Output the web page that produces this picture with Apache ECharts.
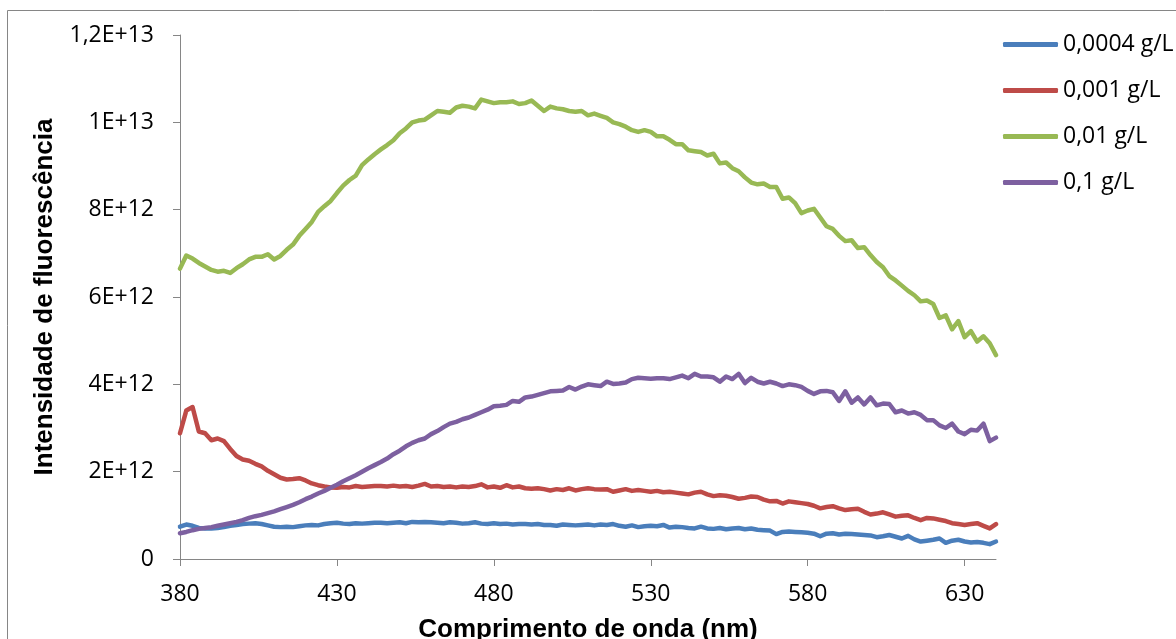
<!DOCTYPE html>
<html>
<head>
<meta charset="utf-8">
<script src="https://cdn.jsdelivr.net/npm/echarts@6/dist/echarts.min.js"></script>
<style>
html,body{margin:0;padding:0;background:#fff;}
#chart{width:1176px;height:639px;}
</style>
</head>
<body>
<div id="chart"></div>
<script>
// Wavelengths (nm), 2 nm step
const wavelengths = [];
for (let w = 380; w <= 640; w += 2) wavelengths.push(w);

const SCALE = 1e12; // values below are in units of 1E+12

const seriesNames = ['0,0004 g/L', '0,001 g/L', '0,01 g/L', '0,1 g/L'];

const s00004 = [
0.74,0.79,0.76,0.71,0.70,0.70,0.71,0.73,0.76,0.78,
0.80,0.81,0.82,0.80,0.77,0.74,0.73,0.74,0.73,0.75,
0.77,0.78,0.77,0.80,0.82,0.83,0.81,0.80,0.82,0.81,
0.82,0.83,0.83,0.82,0.83,0.84,0.82,0.85,0.84,0.85,
0.84,0.83,0.82,0.84,0.83,0.81,0.82,0.84,0.81,0.80,
0.82,0.80,0.81,0.79,0.80,0.80,0.79,0.80,0.78,0.78,
0.76,0.79,0.78,0.77,0.78,0.79,0.77,0.79,0.78,0.80,
0.76,0.74,0.77,0.73,0.75,0.76,0.75,0.78,0.72,0.74,
0.73,0.71,0.70,0.74,0.70,0.69,0.71,0.68,0.70,0.71,
0.68,0.70,0.67,0.66,0.65,0.57,0.62,0.63,0.62,0.61,
0.60,0.58,0.52,0.58,0.59,0.56,0.58,0.57,0.56,0.55,
0.54,0.50,0.52,0.55,0.51,0.47,0.53,0.45,0.40,0.42,
0.44,0.47,0.37,0.42,0.44,0.40,0.38,0.39,0.37,0.34,
0.40];

const s0001 = [
2.88,3.40,3.48,2.92,2.88,2.72,2.76,2.70,2.52,2.36,
2.28,2.25,2.18,2.12,2.02,1.94,1.86,1.82,1.83,1.85,
1.80,1.73,1.69,1.66,1.64,1.63,1.65,1.64,1.67,1.65,
1.66,1.67,1.67,1.66,1.68,1.66,1.67,1.65,1.68,1.72,
1.66,1.67,1.65,1.66,1.64,1.66,1.65,1.67,1.71,1.64,
1.66,1.63,1.69,1.64,1.66,1.62,1.61,1.62,1.60,1.57,
1.60,1.58,1.62,1.57,1.60,1.62,1.60,1.59,1.60,1.54,
1.57,1.60,1.56,1.58,1.56,1.54,1.56,1.53,1.54,1.52,
1.50,1.48,1.52,1.54,1.48,1.44,1.46,1.45,1.42,1.38,
1.40,1.43,1.42,1.36,1.32,1.33,1.27,1.32,1.30,1.28,
1.26,1.22,1.16,1.19,1.21,1.16,1.12,1.14,1.15,1.08,
1.02,1.04,1.07,1.02,0.97,0.99,1.00,0.94,0.89,0.94,
0.93,0.90,0.87,0.82,0.80,0.78,0.80,0.82,0.76,0.70,
0.80];

const s001 = [
6.65,6.95,6.88,6.78,6.70,6.62,6.58,6.60,6.55,6.66,
6.75,6.86,6.92,6.92,6.98,6.86,6.94,7.08,7.20,7.40,
7.56,7.72,7.95,8.08,8.20,8.38,8.55,8.68,8.78,9.02,
9.15,9.27,9.38,9.48,9.59,9.75,9.86,10.00,10.04,10.06,
10.16,10.26,10.24,10.22,10.34,10.38,10.36,10.32,10.52,10.48,
10.44,10.46,10.46,10.48,10.42,10.44,10.50,10.38,10.26,10.36,
10.32,10.30,10.26,10.24,10.26,10.16,10.20,10.15,10.10,10.00,
9.96,9.90,9.82,9.78,9.82,9.78,9.68,9.68,9.60,9.50,
9.50,9.36,9.34,9.32,9.24,9.28,9.06,9.08,8.95,8.88,
8.74,8.62,8.58,8.60,8.52,8.52,8.25,8.28,8.15,7.92,
7.98,8.02,7.82,7.62,7.56,7.40,7.28,7.30,7.12,7.14,
6.96,6.80,6.68,6.48,6.38,6.26,6.14,6.04,5.90,5.92,
5.84,5.52,5.58,5.26,5.45,5.08,5.22,4.98,5.10,4.94,
4.67];

const s01 = [
0.59,0.62,0.66,0.69,0.71,0.73,0.76,0.79,0.82,0.85,
0.89,0.94,0.98,1.01,1.05,1.09,1.14,1.19,1.24,1.30,
1.37,1.43,1.50,1.56,1.63,1.70,1.78,1.85,1.92,2.00,
2.08,2.15,2.22,2.30,2.40,2.48,2.58,2.66,2.72,2.76,
2.86,2.93,3.02,3.10,3.14,3.20,3.24,3.30,3.36,3.42,
3.50,3.51,3.53,3.62,3.60,3.70,3.72,3.76,3.80,3.84,
3.85,3.86,3.94,3.88,3.95,4.00,3.98,3.96,4.06,4.01,
4.02,4.04,4.12,4.15,4.14,4.13,4.14,4.14,4.12,4.16,
4.20,4.14,4.24,4.18,4.18,4.16,4.06,4.18,4.12,4.24,
4.03,4.15,4.06,4.02,4.06,4.02,3.96,4.00,3.98,3.94,
3.85,3.78,3.84,3.85,3.82,3.62,3.84,3.58,3.70,3.54,
3.70,3.52,3.56,3.55,3.36,3.40,3.33,3.36,3.30,3.18,
3.18,3.06,3.00,3.10,2.92,2.86,2.96,2.94,3.10,2.70,
2.78];

const seriesValues = [s00004, s0001, s001, s01];
const seriesColors = ['#4A7EBB', '#BE4B48', '#98B954', '#7D60A0'];

const xTicks = [380, 430, 480, 530, 580, 630];
const yTickLabels = ['0', '2E+12', '4E+12', '6E+12', '8E+12', '1E+13', '1,2E+13'];
const Y_INTERVAL = 2e12;

const chart = echarts.init(document.getElementById('chart'), null, {renderer: 'canvas'});

const labelFont = {fontFamily: 'Open Sans', fontSize: 23, color: '#000'};
const titleFont = {fontFamily: 'Liberation Sans', fontSize: 26, fontWeight: 'bold', color: '#000'};

chart.setOption({
  animation: false,
  backgroundColor: '#fff',
  graphic: [{
    type: 'rect',
    shape: {x: 7.5, y: 10.5, width: 1300, height: 800},
    style: {fill: 'none', stroke: '#868686', lineWidth: 1},
    silent: true,
    z: -1
  }],
  grid: {left: 180, top: 35, width: 816, height: 524, containLabel: false, outerBoundsMode: 'none'},
  legend: {
    orient: 'vertical',
    left: 998,
    top: 28,
    itemWidth: 55,
    itemHeight: 5,
    itemGap: 23,
    icon: 'roundRect',
    textStyle: Object.assign({}, labelFont, {lineHeight: 23}),
    data: seriesNames
  },
  xAxis: {
    type: 'value',
    min: 380,
    max: 640,
    interval: 50,
    name: 'Comprimento de onda (nm)',
    nameLocation: 'middle',
    nameGap: 58,
    nameTextStyle: titleFont,
    axisLine: {show: true, lineStyle: {color: '#868686', width: 1}},
    axisTick: {show: true, length: 7, inside: false, customValues: xTicks, lineStyle: {color: '#868686'}},
    axisLabel: Object.assign({margin: 24, customValues: xTicks}, labelFont),
    splitLine: {show: false}
  },
  yAxis: {
    type: 'value',
    min: 0,
    max: 1.2e13,
    interval: Y_INTERVAL,
    name: 'Intensidade de fluorescência',
    nameLocation: 'middle',
    nameGap: 122,
    nameTextStyle: titleFont,
    axisLine: {show: true, lineStyle: {color: '#868686', width: 1}},
    axisTick: {show: true, length: 7, inside: false, lineStyle: {color: '#868686'}},
    axisLabel: Object.assign({
      margin: 26,
      formatter: function (v) { return yTickLabels[Math.round(v / Y_INTERVAL)]; }
    }, labelFont),
    splitLine: {show: false}
  },
  series: seriesNames.map(function (name, k) {
    return {
      name: name,
      type: 'line',
      symbol: 'none',
      smooth: false,
      color: seriesColors[k],
      lineStyle: {width: 4.5, color: seriesColors[k], cap: 'round', join: 'round'},
      data: wavelengths.map(function (w, i) { return [w, seriesValues[k][i] * SCALE]; })
    };
  })
});
</script>
</body>
</html>
